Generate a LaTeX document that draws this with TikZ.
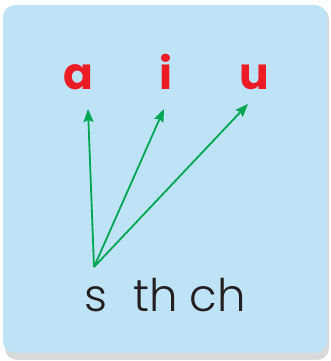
\documentclass[tikz,border=0pt]{standalone}
\usepackage{xcolor}
\usepackage{fontspec}
\setmainfont{Poppins}
\newfontfamily\thinfont{Poppins}[UprightFont=* Light]
\usepackage{tikz}
\usetikzlibrary{arrows.meta}

\definecolor{cardblue}{HTML}{BEE3F7}
\definecolor{vred}{HTML}{ED1C24}
\definecolor{vgreen}{HTML}{00A651}
\definecolor{ink}{HTML}{231F20}

\begin{document}
\begin{tikzpicture}[x=1pt, y=1pt, >={Stealth[length=13pt, width=10pt, inset=2pt]},
        vowel/.style={text=vred, inner sep=0pt, anchor=base, font=\bfseries\fontsize{44}{44}\selectfont},
        cons/.style={text=ink, inner sep=0pt, anchor=base west, font=\thinfont\fontsize{45}{45}\selectfont},
        link/.style={->, draw=vgreen, line width=1.8pt}]
        \useasboundingbox (0,0) rectangle (330,361);
        % card with its shadow
        \fill[black!15, rounded corners=12pt] (5,1) rectangle (329,354);
        \fill[cardblue, rounded corners=12pt] (3,8) rectangle (327,356);
        % vowels
        \node[vowel] (a) at (78,271) {a};
        \node[vowel] (i) at (166,271) {i};
        \node[vowel] (u) at (254,271) {u};
        % consonants
        \node[cons] (cons) at (84,49) {s\hspace{26pt}th\hspace{12pt}ch};
        \coordinate (src) at (94,94);
        \coordinate (ta) at (88,252);
        \coordinate (ti) at (164,252);
        \coordinate (tu) at (248,257);
        \draw[link] (src) -- (ta);
        \draw[link] (src) -- (ti);
        \draw[link] (src) -- (tu);
    \end{tikzpicture}
\end{document}
